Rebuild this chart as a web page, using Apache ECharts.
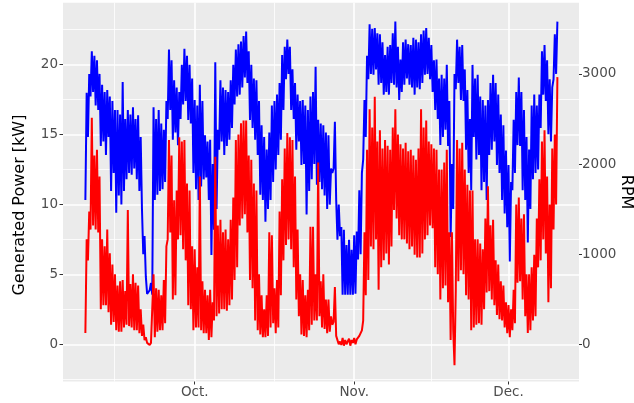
<!DOCTYPE html>
<html>
<head>
<meta charset="utf-8">
<script src="https://cdn.jsdelivr.net/npm/echarts@6/dist/echarts.min.js"></script>
<style>
  html, body { margin: 0; padding: 0; background: #ffffff; }
  #chart { width: 634px; height: 403px; }
</style>
</head>
<body>
<div id="chart"></div>
<script>
// Six-hourly samples starting 2020-09-09 18:00 (local time)
const sampleStart = new Date(2020, 8, 9, 18, 0).getTime();
const sampleStepHours = 6;

// Rotor speed [RPM], right axis
const rpm = [
  1600, 2790, 2300, 3000,  2750, 3250, 2800, 3200,  2650, 3150, 2600, 3000,  2200, 2880, 2250, 2800,
  2100, 2820, 2300, 2750,  1700, 2700, 1900, 2600,  1460, 2600, 1650, 2550,  1550, 2910, 1700, 2500,
  1830, 2600, 1900, 2550,  1880, 2630, 1950, 2500,  1830, 2540, 1700, 2300,  1500, 1000, 1200, 750,
  560, 550, 600, 680,      550, 2630, 1600, 2500,   1660, 2600, 1700, 2450,  1720, 2380, 1800, 2700,
  2500, 3270, 2600, 3150,  2270, 2930, 2350, 2850,  2210, 2800, 2500, 3100,  2660, 3280, 2700, 3200,
  2490, 3100, 2450, 2950,  1900, 2710, 1720, 2650,  1600, 2880, 1750, 2700,  1830, 2320, 1850, 2250,
  1600, 2270, 990, 2000,   1270, 3130, 1500, 2380,  2160, 2930, 2250, 2850,  2100, 2820, 2200, 2800,
  2270, 2930, 2400, 3100,  2660, 3270, 2750, 3330,  2770, 3360, 2850, 3420,  2960, 3470, 2900, 3250,
  2490, 3100, 2400, 2950,  2270, 2930, 2100, 2700,  1660, 2430, 1600, 2300,  1360, 2160, 1500, 2350,
  1600, 2650, 1800, 2700,  1940, 2770, 2100, 2900,  2270, 3210, 2600, 3300,  2940, 3380, 3000, 3300,
  2600, 3050, 2500, 2900,  2160, 2770, 2250, 2700,  1990, 2710, 2000, 2650,  1440, 2600, 1700, 2750,
  1830, 2800, 2000, 3080,  1770, 2490, 1800, 2450,  1720, 2430, 1650, 2350,  1500, 2320, 1550, 1950,
  1900, 1950, 2470, 1600,  1160, 1550, 1200, 1300,  550, 1270, 550, 1100,   550, 1160, 550, 1050,
  550, 1210, 560, 1250,    940, 1710, 1000, 1900,   2050, 2710, 2300, 3200,  2940, 3550, 3000, 3500,
  2990, 3510, 3050, 3450,  2880, 3440, 2900, 3350,  2770, 3210, 2800, 3300,  2770, 3320, 2900, 3450,
  2880, 3580, 2850, 3300,  2710, 3160, 2800, 3350,  2880, 3380, 2950, 3330,  2880, 3320, 2850, 3400,
  2770, 3380, 2850, 3350,  2830, 3440, 2900, 3480,  2990, 3510, 3000, 3400,  2940, 3320, 2800, 3150,
  2600, 3160, 2500, 2950,  2210, 2990, 2300, 2950,  2380, 3100, 2200, 2700,  1190, 2000, 1500, 3000,
  2830, 3380, 2900, 3300,  2710, 3320, 2700, 3050,  2160, 2820, 1900, 2500,  1710, 3100, 2300, 2950,
  2050, 2990, 2100, 2750,  1710, 2710, 1800, 2650,  1600, 2710, 2100, 2900,  2160, 2990, 2250, 2900,
  1990, 2770, 1900, 2550,  1600, 2430, 1450, 2150,  1300, 1990, 920, 1800,   1710, 2490, 1900, 2800,
  2210, 2960, 2200, 2800,  1710, 2600, 1600, 2300,  1130, 2160, 1500, 2650,  1830, 2770, 1900, 2650,
  1940, 2770, 2400, 3250,  2770, 3320, 2700, 3150,  2330, 2940, 2250, 2850,  2940, 3440, 3000, 3580
];

// Generated power [kW], left axis
const powerKw = [
  0.8, 7.5, 6.0, 9.5,    8.2, 16.2, 8.5, 13.5,  8.2, 13.9, 8.0, 12.0,  2.5, 7.5, 2.8, 7.0,
  2.8, 8.2, 2.3, 6.5,    1.4, 5.7, 1.6, 5.0,    1.0, 4.2, 0.9, 4.5,    0.9, 4.6, 1.2, 3.8,
  1.4, 9.6, 1.3, 4.3,    1.2, 5.0, 1.0, 4.4,    1.0, 4.2, 0.8, 2.5,    0.6, 1.4, 0.3, 0.5,
  0.1, 0.0, -0.05, 0.1,  0.0, 5.0, 0.5, 4.0,    0.9, 3.9, 1.0, 3.5,    1.0, 4.6, 1.5, 7.0,
  7.5, 14.6, 8.0, 13.5,  3.2, 10.3, 3.5, 11.0,  7.5, 14.8, 7.8, 14.5,  6.8, 14.6, 6.0, 11.5,
  2.8, 11.0, 2.5, 7.0,   1.0, 6.8, 1.2, 5.5,    1.2, 12.0, 1.0, 4.5,   0.8, 3.9, 0.8, 3.5,
  0.3, 3.9, 0.5, 3.0,    1.7, 13.4, 2.0, 8.5,   2.2, 8.9, 2.5, 8.0,    2.5, 8.2, 2.4, 7.5,
  2.8, 8.9, 3.2, 10.5,   4.6, 14.6, 5.5, 15.0,  8.5, 15.8, 9.0, 16.0,  9.3, 16.0, 8.0, 13.5,
  4.6, 13.2, 4.0, 11.5,  1.7, 11.0, 1.0, 5.0,   0.7, 3.5, 0.5, 2.5,    0.5, 3.5, 0.6, 8.0,
  1.2, 7.8, 1.5, 4.0,    0.8, 4.6, 1.2, 9.5,    3.5, 11.8, 6.0, 14.0,  7.1, 15.1, 7.5, 14.8,
  6.8, 14.6, 5.5, 12.0,  3.2, 8.2, 2.0, 5.0,    0.7, 4.6, 0.6, 3.5,    0.5, 3.9, 1.0, 8.4,
  1.4, 8.4, 1.7, 5.0,    1.7, 13.0, 2.0, 4.5,   1.2, 5.0, 1.1, 3.2,    0.8, 3.2, 0.9, 2.0,
  1.4, 1.6, 4.1, 0.6,    0.3, 0.0, 0.2, -0.05,  0.45, -0.1, 0.3, 0.0,  0.0, 0.4, -0.1, 0.3,
  0.1, 0.45, 0.0, 0.35,  0.3, 0.6, 0.8, 1.0,    1.7, 8.0, 3.5, 13.9,   4.6, 16.8, 7.0, 15.5,
  6.8, 17.7, 7.5, 14.5,  3.9, 15.3, 5.5, 14.0,  6.0, 14.6, 6.5, 14.2,  5.7, 13.9, 7.0, 15.5,
  9.6, 16.8, 9.0, 15.0,  7.8, 14.3, 7.5, 14.0,  7.5, 14.4, 7.2, 13.8,  6.8, 13.9, 7.0, 13.5,
  6.4, 13.2, 6.2, 14.0,  6.2, 16.8, 6.5, 15.5,  7.5, 16.0, 7.8, 14.5,  8.5, 14.3, 8.3, 14.0,
  5.5, 13.9, 5.0, 12.5,  3.2, 12.5, 4.0, 13.0,  4.2, 13.9, 3.0, 8.0,   0.3, 8.0, 1.0, -1.5,
  3.9, 14.6, 4.5, 14.0,  5.3, 14.4, 5.0, 12.5,  3.5, 11.4, 3.2, 11.0,  1.0, 11.0, 1.2, 7.5,
  1.4, 7.5, 1.5, 7.2,    1.4, 6.8, 2.5, 9.0,    3.7, 11.3, 3.8, 8.5,   3.2, 8.9, 2.8, 6.0,
  2.1, 5.7, 1.8, 4.5,    1.7, 4.2, 1.2, 3.0,    0.8, 2.8, 0.5, 2.5,    1.0, 3.9, 1.5, 10.0,
  4.4, 10.5, 4.5, 9.0,   3.2, 9.3, 2.0, 5.0,    0.8, 5.0, 1.0, 5.5,    1.7, 6.4, 2.0, 9.0,
  5.5, 11.8, 6.0, 14.5,  7.5, 15.3, 6.5, 12.0,  3.0, 10.0, 4.0, 14.0,  8.2, 15.0, 10.0, 19.1
];

// Axis breaks and labels (x values are epoch milliseconds)
const monthBreaks = [new Date(2020, 9, 1).getTime(), new Date(2020, 10, 1).getTime(), new Date(2020, 11, 1).getTime()];
const monthLabels = ['Oct.', 'Nov.', 'Dec.'];
const midMonthBreaks = [new Date(2020, 8, 15, 10).getTime(), new Date(2020, 9, 16, 12).getTime(), new Date(2020, 10, 16, 0).getTime()];
const powerTicks = [0, 5, 10, 15, 20];
const powerMinorTicks = [-2.5, 2.5, 7.5, 12.5, 17.5, 22.5];
const rpmTicks = [0, 1000, 2000, 3000];

// Axis extents
const xMin = new Date(2020, 8, 5, 9, 36).getTime();
const xMax = new Date(2020, 11, 14, 16, 48).getTime();
const kwMin = -2.66, kwMax = 24.42;
const rpmPerKw = 155.2;

const stepMs = sampleStepHours * 3600 * 1000;
const timeAt = i => sampleStart + i * stepMs;
const rpmData = rpm.map((v, i) => [timeAt(i), v]);
const powerData = powerKw.map((v, i) => [timeAt(i), v]);

const tickText = '#4D4D4D';
const font = 'DejaVu Sans';

const chart = echarts.init(document.getElementById('chart'), null, { renderer: 'canvas' });
chart.setOption({
  animation: false,
  backgroundColor: '#ffffff',
  grid: {
    left: 63, right: 55, top: 2.7, bottom: 21.5,
    outerBoundsMode: 'none', containLabel: false,
    show: true, backgroundColor: '#EBEBEB', borderWidth: 0
  },
  xAxis: [
    {
      type: 'value', min: xMin, max: xMax,
      axisLine: { show: false, onZero: false },
      axisTick: { show: true, customValues: monthBreaks, length: 3, lineStyle: { color: '#333333', width: 1 } },
      axisLabel: {
        customValues: monthBreaks, margin: 4, color: tickText, fontSize: 13.5, fontFamily: font,
        formatter: v => monthLabels[monthBreaks.indexOf(v)] || ''
      },
      splitLine: { show: true, lineStyle: { color: '#ffffff', width: 1.6 } }
    },
    {
      type: 'value', min: xMin, max: xMax, position: 'bottom',
      axisLine: { show: false, onZero: false },
      axisTick: { show: false, customValues: midMonthBreaks },
      axisLabel: { show: false },
      splitLine: { show: true, lineStyle: { color: '#ffffff', width: 0.8 } }
    }
  ],
  yAxis: [
    {
      type: 'value', position: 'left', min: kwMin, max: kwMax,
      name: 'Generated Power [kW]', nameLocation: 'middle', nameGap: 35, nameRotate: 90,
      nameMoveOverlap: false,
      nameTextStyle: { fontSize: 16, color: '#000000', fontFamily: font, padding: [0, 26, 0, 0] },
      axisLine: { show: false, onZero: false },
      axisTick: { show: true, customValues: powerTicks, length: 3.5, lineStyle: { color: '#333333', width: 1 } },
      axisLabel: { customValues: powerTicks, margin: 5, color: tickText, fontSize: 13.5, fontFamily: font, formatter: v => String(v) },
      splitLine: { show: true, lineStyle: { color: '#ffffff', width: 1.6 } }
    },
    {
      type: 'value', position: 'right', min: kwMin * rpmPerKw, max: kwMax * rpmPerKw,
      name: 'RPM', nameLocation: 'middle', nameGap: 39, nameRotate: -90,
      nameMoveOverlap: false,
      nameTextStyle: { fontSize: 16, color: '#000000', fontFamily: font },
      axisLine: { show: false, onZero: false },
      axisTick: { show: true, customValues: rpmTicks, length: 3, lineStyle: { color: '#333333', width: 1 } },
      axisLabel: { customValues: rpmTicks, margin: 3, color: tickText, fontSize: 13.5, fontFamily: font, formatter: v => String(v) },
      splitLine: { show: false }
    },
    {
      type: 'value', position: 'left', min: kwMin, max: kwMax,
      axisLine: { show: false, onZero: false },
      axisTick: { show: false, customValues: powerMinorTicks },
      axisLabel: { show: false },
      splitLine: { show: true, lineStyle: { color: '#ffffff', width: 0.8 } }
    }
  ],
  series: [
    {
      name: 'RPM', type: 'line', xAxisIndex: 0, yAxisIndex: 1, data: rpmData,
      showSymbol: false, sampling: null, z: 2,
      lineStyle: { color: '#0000FF', width: 2 }
    },
    {
      name: 'Generated Power', type: 'line', xAxisIndex: 0, yAxisIndex: 0, data: powerData,
      showSymbol: false, sampling: null, z: 3,
      lineStyle: { color: '#FF0000', width: 2 }
    }
  ]
});
</script>
</body>
</html>
